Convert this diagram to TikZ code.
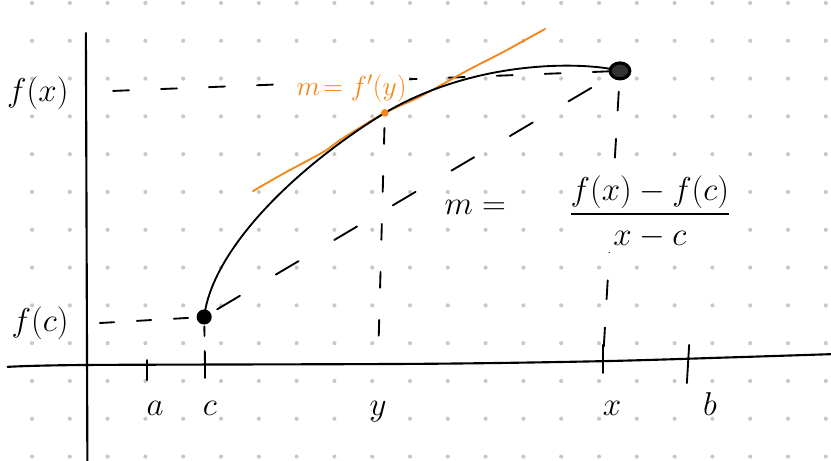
\documentclass[tikz,border=0pt]{standalone}
\usepackage{amsmath,amssymb}
\usepackage{xcolor}
\usepackage{tikz}
\definecolor{penorange}{RGB}{245,135,25}
\definecolor{dotgray}{RGB}{200,200,200}

\begin{document}
\begin{tikzpicture}[line cap=round, line join=round]
\tikzstyle{pen} = [line width=1.4pt]
\tikzstyle{guide} = [line width=1.4pt, dash pattern=on 0.42cm off 0.85cm]
\tikzstyle{lbl} = [font=\fontsize{25}{30}\selectfont, inner sep=1pt]
\tikzstyle{gridpt} = [fill=dotgray]
\tikzstyle{tickmark} = [line width=1.4pt]

\useasboundingbox (-2.302,-2.540) rectangle (19.683,9.656);

% dotted paper
\foreach \i in {0,...,21}
  \foreach \j in {0,...,12}
    \fill[gridpt] (-1.455+\i,9.577-\j) circle (0.055);

% axes
\coordinate (ytop) at (-0.03,8.78);
\coordinate (ybot) at (0.01,-2.6);
\draw[pen, line width=1.6pt] (ytop) -- (ybot);
\draw[pen, line width=1.6pt] plot[smooth] coordinates {(-2.1,-0.05) (0,0) (8.8,0.03) (13.6,0.1) (17,0.2) (19.8,0.29)};

% points on the graph
\coordinate (C) at (3.10,1.27);
\coordinate (Y) at (7.88,6.67);
\coordinate (X) at (14.10,7.78);
\coordinate (fcL) at (0.34,1.11);
\coordinate (fxL) at (0.69,7.25);
\coordinate (cfoot) at (3.12,0.05);
\coordinate (yfoot) at (7.70,0.10);
\coordinate (xfoot) at (13.65,0.10);

% ticks
\coordinate (ta) at (1.59,0.03);
\coordinate (tc) at (3.12,0.05);
\coordinate (tx) at (13.65,0.10);
\coordinate (tb) at (15.90,0.15);
\draw[tickmark] (ta) ++(0,0.10) -- ++(0,-0.53);
\draw[tickmark] (tc) ++(0,0.27) -- ++(0,-0.66);
\draw[tickmark] (tx) ++(0,0.43) -- ++(0,-0.74);
\draw[tickmark] (tb) ++(0.03,0.38) -- ++(-0.06,-1.01);

\node[lbl, anchor=base] (la) at (1.80,-1.33) {$a$};
\node[lbl, anchor=base] (lc) at (3.25,-1.33) {$c$};
\node[lbl, anchor=base] (ly) at (7.70,-1.33) {$y$};
\node[lbl, anchor=base] (lx) at (13.89,-1.33) {$x$};
\node[lbl, anchor=base] (lb) at (16.48,-1.33) {$b$};

\node[lbl] (lfx) at (-1.30,7.20) {$f(x)$};
\node[lbl] (lfc) at (-1.24,1.11) {$f(c)$};

% guide lines
\draw[guide, dash pattern=on 0.38cm off 0.6cm] (fcL) -- (C);
\draw[guide] (fxL) -- (X);
\draw[guide, dash pattern=on 0.7cm off 1.1cm, shorten <=0.4cm, shorten >=0.25cm] (C) -- (X);
\draw[guide, shorten <=0.4cm] (Y) -- (yfoot);
\draw[guide, dash pattern=on 0.5cm off 0.75cm, shorten <=0.55cm] (X) -- (xfoot);
\draw[guide, dash pattern=on 0.25cm off 0.4cm, shorten <=0.25cm] (C) -- (cfoot);

% slope labels
\node[lbl, anchor=base west] (msec) at (9.42,3.97) {$m =$};
\node[lbl, fill=white, inner sep=3pt] (quot) at (14.89,4.06) {$\dfrac{f(x)-f(c)}{x-c}$};
\node[lbl, font=\fontsize{22}{26}\selectfont, text=penorange, fill=white, inner sep=2pt, anchor=base] (mtan) at (7.00,7.12) {$m\!=f'(y)$};

% tangent at y
\draw[pen, penorange] plot[smooth] coordinates {(4.39,4.60) (5.19,5.06) (6.24,5.63) (6.77,6.00) (Y) (8.81,7.10) (10.08,7.80) (11.01,8.28) (12.12,8.89)};

% the function
\draw[pen] (C) .. controls (3.3,3.0) and (5.4,5.15) .. (Y)
  .. controls (10.4,8.15) and (13.3,8.0) .. (X);

\fill[penorange] (Y) circle (0.1);
\fill (C) circle (0.2);
\draw[line width=2.4pt, fill=black!80] (X) ellipse (0.26 and 0.21);

\end{tikzpicture}
\end{document}
